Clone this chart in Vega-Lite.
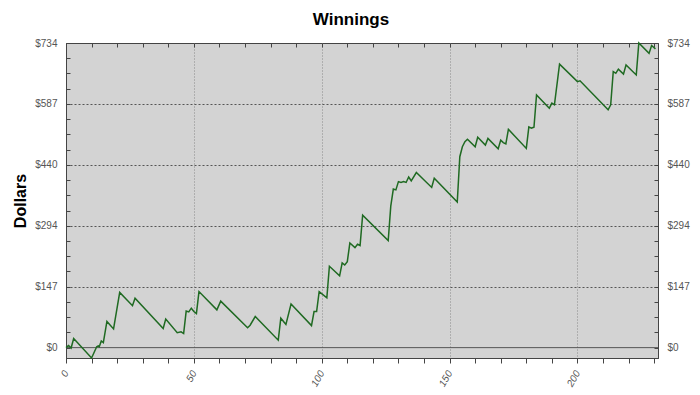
{
  "$schema": "https://vega.github.io/schema/vega-lite/v6.json",
  "width": 592,
  "height": 315,
  "autosize": {"type": "none"},
  "padding": {"left": 66, "top": 43, "right": 42, "bottom": 37},
  "background": "white",
  "title": {"text": "Winnings", "fontSize": 17, "fontWeight": "bold", "font": "Liberation Sans", "color": "black", "anchor": "middle", "frame": "bounds", "offset": 9},
  "config": {
    "view": {"fill": "#d3d3d3", "stroke": "#444", "strokeWidth": 1},
    "axis": {"labelFont": "Liberation Sans", "titleFont": "Liberation Sans", "labelColor": "#555", "labelFontSize": 10, "domainColor": "#444", "tickColor": "#444"}
  },
  "datasets": {
    "w": [
      {"game": 0, "dollars": 0}, {"game": 1, "dollars": 5}, {"game": 2, "dollars": -1}, {"game": 3, "dollars": 22},
      {"game": 10, "dollars": -25}, {"game": 12, "dollars": 2}, {"game": 12.6, "dollars": 4}, {"game": 13, "dollars": 2},
      {"game": 13.8, "dollars": 16}, {"game": 14.6, "dollars": 12}, {"game": 16, "dollars": 63}, {"game": 18.6, "dollars": 45},
      {"game": 21, "dollars": 133}, {"game": 26, "dollars": 101}, {"game": 27, "dollars": 119}, {"game": 38, "dollars": 46},
      {"game": 39, "dollars": 69}, {"game": 43.5, "dollars": 36}, {"game": 45, "dollars": 38}, {"game": 46, "dollars": 34},
      {"game": 47, "dollars": 88}, {"game": 48, "dollars": 86}, {"game": 49, "dollars": 95}, {"game": 50, "dollars": 87},
      {"game": 51, "dollars": 82}, {"game": 52, "dollars": 135}, {"game": 59, "dollars": 91}, {"game": 60.5, "dollars": 112},
      {"game": 71, "dollars": 48}, {"game": 72, "dollars": 54}, {"game": 74, "dollars": 75}, {"game": 83, "dollars": 18},
      {"game": 84, "dollars": 71}, {"game": 86, "dollars": 56}, {"game": 88, "dollars": 105}, {"game": 96, "dollars": 53},
      {"game": 97, "dollars": 87}, {"game": 98, "dollars": 87}, {"game": 99, "dollars": 135}, {"game": 102, "dollars": 120},
      {"game": 103, "dollars": 196}, {"game": 107, "dollars": 173}, {"game": 108, "dollars": 204}, {"game": 109, "dollars": 199},
      {"game": 110, "dollars": 207}, {"game": 111, "dollars": 252}, {"game": 113, "dollars": 241}, {"game": 114, "dollars": 249},
      {"game": 115, "dollars": 246}, {"game": 116, "dollars": 319}, {"game": 126, "dollars": 258}, {"game": 127, "dollars": 341},
      {"game": 128, "dollars": 382}, {"game": 129, "dollars": 380}, {"game": 130, "dollars": 400}, {"game": 131, "dollars": 398},
      {"game": 132, "dollars": 400}, {"game": 133, "dollars": 398}, {"game": 134, "dollars": 411}, {"game": 135, "dollars": 402},
      {"game": 137, "dollars": 422}, {"game": 143, "dollars": 386}, {"game": 144, "dollars": 408}, {"game": 153, "dollars": 351},
      {"game": 154, "dollars": 460}, {"game": 155, "dollars": 484}, {"game": 156, "dollars": 496}, {"game": 157, "dollars": 502},
      {"game": 160, "dollars": 484}, {"game": 161, "dollars": 507}, {"game": 164, "dollars": 488}, {"game": 165, "dollars": 504},
      {"game": 169, "dollars": 479}, {"game": 170, "dollars": 500}, {"game": 171, "dollars": 494}, {"game": 172, "dollars": 491},
      {"game": 173, "dollars": 526}, {"game": 180, "dollars": 480}, {"game": 181, "dollars": 532}, {"game": 182, "dollars": 529},
      {"game": 183, "dollars": 531}, {"game": 184, "dollars": 609}, {"game": 189, "dollars": 577}, {"game": 190, "dollars": 589},
      {"game": 191, "dollars": 585}, {"game": 193, "dollars": 683}, {"game": 200, "dollars": 641}, {"game": 201, "dollars": 643},
      {"game": 212, "dollars": 573}, {"game": 213, "dollars": 585}, {"game": 214, "dollars": 665}, {"game": 215, "dollars": 661},
      {"game": 216, "dollars": 671}, {"game": 218, "dollars": 659}, {"game": 219, "dollars": 681}, {"game": 223, "dollars": 657},
      {"game": 224, "dollars": 734}, {"game": 228, "dollars": 709}, {"game": 229, "dollars": 728}, {"game": 230.5, "dollars": 720}
    ],
    "zero": [{"game": 0, "dollars": 0}, {"game": 231.5, "dollars": 0}]
  },
  "layer": [
    {
      "data": {"name": "zero"},
      "mark": {"type": "line", "color": "#555", "strokeWidth": 1},
      "encoding": {
        "x": {"field": "game", "type": "quantitative", "scale": {"domain": [0, 231.5], "nice": false, "zero": false},
          "axis": {"orient": "top", "values": [0,10,20,30,40,50,60,70,80,90,100,110,120,130,140,150,160,170,180,190,200,210,220,230], "labels": false, "grid": false, "domain": false, "tickSize": -4, "title": null}},
        "y": {"field": "dollars", "type": "quantitative", "scale": {"domain": [-25, 734], "nice": false, "zero": false},
          "axis": {"orient": "right", "values": [0,36.7,73.4,110.1,146.8,183.5,220.2,256.9,293.6,330.3,367,403.7,440.4,477.1,513.8,550.5,587.2,623.9,660.6,697.3,734],
            "labelExpr": "abs(datum.value/146.8 - round(datum.value/146.8)) < 0.01 ? '$' + format(datum.value, '.0f') : ''",
            "tickSize": -4, "labelPadding": 13, "grid": false, "title": null}}
      }
    },
    {
      "data": {"name": "w"},
      "mark": {"type": "line", "color": "#1f6a22", "strokeWidth": 1.5},
      "encoding": {
        "x": {"field": "game", "type": "quantitative",
          "axis": {"orient": "bottom", "values": [0,10,20,30,40,50,60,70,80,90,100,110,120,130,140,150,160,170,180,190,200,210,220,230],
            "labelExpr": "datum.value % 50 == 0 ? datum.label : ''", "labelAngle": -60, "labelFontStyle": "italic", "tickSize": 5, "labelPadding": 8,
            "grid": true, "gridColor": "#888", "gridDash": [1, 2],
            "gridOpacity": {"condition": {"test": "datum.value % 50 == 0 && datum.value > 0", "value": 1}, "value": 0},
            "title": null}},
        "y": {"field": "dollars", "type": "quantitative",
          "axis": {"orient": "left", "values": [0,36.7,73.4,110.1,146.8,183.5,220.2,256.9,293.6,330.3,367,403.7,440.4,477.1,513.8,550.5,587.2,623.9,660.6,697.3,734],
            "labelExpr": "abs(datum.value/146.8 - round(datum.value/146.8)) < 0.01 ? '$' + format(datum.value, '.0f') : ''",
            "tickSize": -4, "labelPadding": 13,
            "grid": true, "gridColor": "#555", "gridDash": [2, 2],
            "gridOpacity": {"condition": {"test": "abs(datum.value/146.8 - round(datum.value/146.8)) < 0.01 && datum.value > 1 && datum.value < 700", "value": 1}, "value": 0},
            "title": "Dollars", "titleFontSize": 16, "titleFontWeight": "bold", "titleColor": "black", "titlePadding": 6}}
      }
    }
  ]
}
